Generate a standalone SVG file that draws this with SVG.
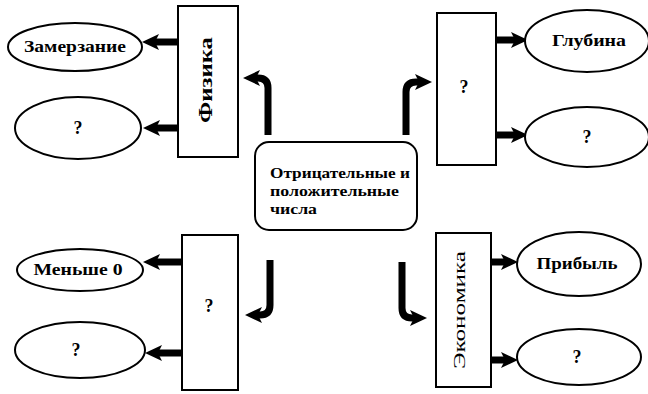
<svg xmlns="http://www.w3.org/2000/svg" width="648" height="394" viewBox="0 0 648 394">
<defs>
<style>
.box{fill:#fff;stroke:#000;stroke-width:2}
.ell{fill:#fff;stroke:#000;stroke-width:2}
.t{font-family:"Liberation Serif","Times New Roman",serif;font-weight:bold;fill:#000}
.lbl{font-size:16px;text-anchor:middle}
.q{font-size:18px;text-anchor:middle}
.c{font-size:15px}
.con{fill:none;stroke:#000;stroke-width:7;marker-end:url(#ah)}
</style>
<marker id="ah" markerUnits="userSpaceOnUse" markerWidth="18" markerHeight="18" refX="4" refY="9" orient="auto" viewBox="0 0 18 18">
<path d="M0,1 L17,9 L0,17 L4,9 z" fill="#000"/>
</marker>
</defs>
<rect width="648" height="394" fill="#fff"/>
<g id="connectors">
<path class="con" d="M178,42 L155,42"/>
<path class="con" d="M178,128 L156,128"/>
<path class="con" d="M496,40 L515,40"/>
<path class="con" d="M496,135 L515,135"/>
<path class="con" d="M182,262 L156,262"/>
<path class="con" d="M182,353 L158,353"/>
<path class="con" d="M491,262 L505,262"/>
<path class="con" d="M491,360 L505,360"/>
<path class="con" d="M268,135 L268,88 Q268,78 258,78 L256,78"/>
<path class="con" d="M406,135 L406,92 Q406,82 416,82 L419,82"/>
<path class="con" d="M270,260 L270,305 Q270,315 260,315 L258,315"/>
<path class="con" d="M402,262 L402,308 Q402,318 412,318 L414,318"/>
</g>
<g id="center">
<rect class="box" x="255" y="142" width="162" height="88" rx="14"/>
<text class="t c" x="270" y="178" textLength="140" lengthAdjust="spacingAndGlyphs">Отрицательные и</text>
<text class="t c" x="270" y="196" textLength="129" lengthAdjust="spacingAndGlyphs">положительные</text>
<text class="t c" x="270" y="214" textLength="47" lengthAdjust="spacingAndGlyphs">числа</text>
</g>
<g id="physics">
<rect class="box" x="178" y="6" width="60" height="151"/>
<text class="t" font-size="19" text-anchor="middle" transform="translate(212,80) rotate(-90)" textLength="86" lengthAdjust="spacingAndGlyphs">Физика</text>
</g>
<g id="freezing">
<ellipse class="ell" cx="75" cy="47" rx="67" ry="24"/>
<text class="t lbl" x="75" y="52" textLength="102" lengthAdjust="spacingAndGlyphs">Замерзание</text>
</g>
<g id="physics-q">
<ellipse class="ell" cx="78" cy="128" rx="63" ry="31"/>
<text class="t q" x="78" y="134">?</text>
</g>
<g id="top-right">
<rect class="box" x="437" y="13" width="59" height="152"/>
<text class="t q" x="464" y="93">?</text>
</g>
<g id="depth">
<ellipse class="ell" cx="587" cy="41" rx="62" ry="31"/>
<text class="t lbl" x="589" y="46" textLength="74" lengthAdjust="spacingAndGlyphs">Глубина</text>
</g>
<g id="depth-q">
<ellipse class="ell" cx="587" cy="137" rx="62" ry="30"/>
<text class="t q" x="587" y="143">?</text>
</g>
<g id="bottom-left">
<rect class="box" x="182" y="235" width="56" height="155"/>
<text class="t q" x="209" y="312">?</text>
</g>
<g id="less-zero">
<ellipse class="ell" cx="80" cy="270" rx="63" ry="21"/>
<text class="t lbl" x="78" y="275" textLength="89" lengthAdjust="spacingAndGlyphs">Меньше 0</text>
</g>
<g id="less-q">
<ellipse class="ell" cx="80" cy="350" rx="65" ry="28"/>
<text class="t q" x="76" y="356">?</text>
</g>
<g id="economics">
<rect class="box" x="436" y="233" width="55" height="154"/>
<text font-family="Liberation Serif, Times New Roman, serif" font-size="16" fill="#000" text-anchor="middle" transform="translate(465,310) rotate(-90)" textLength="118" lengthAdjust="spacingAndGlyphs">Экономика</text>
</g>
<g id="profit">
<ellipse class="ell" cx="579" cy="264" rx="62" ry="32"/>
<text class="t lbl" x="577" y="269" textLength="81" lengthAdjust="spacingAndGlyphs">Прибыль</text>
</g>
<g id="profit-q">
<ellipse class="ell" cx="579" cy="357" rx="62" ry="28"/>
<text class="t q" x="577" y="363">?</text>
</g>
</svg>
